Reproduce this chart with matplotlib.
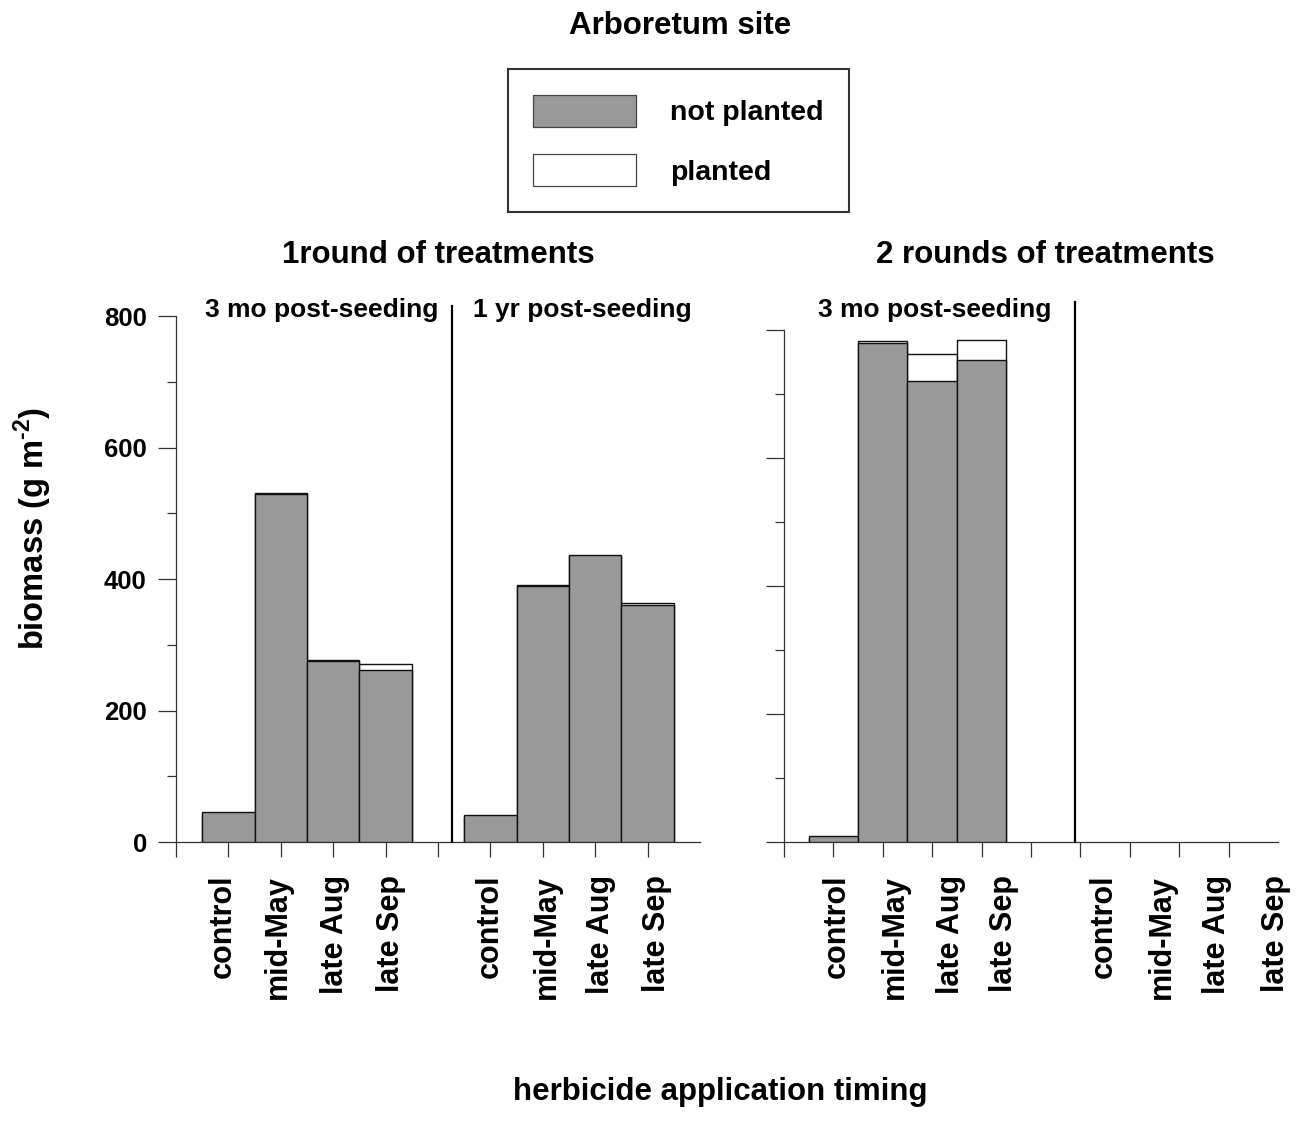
import numpy as np
import matplotlib
matplotlib.use("Agg")
import matplotlib.pyplot as plt
from matplotlib.patches import Patch
from matplotlib.ticker import MultipleLocator
from matplotlib.transforms import blended_transform_factory

plt.rcParams["font.family"] = ["Liberation Sans", "DejaVu Sans"]
plt.rcParams["font.weight"] = "bold"
plt.rcParams["mathtext.fontset"] = "custom"
plt.rcParams["mathtext.bf"] = "Liberation Sans:bold"
plt.rcParams["mathtext.rm"] = "Liberation Sans:bold"

categories = ["control", "mid-May", "late Aug", "late Sep"]

# 1 round of treatments
round1_3mo_not_planted = [45, 530, 276, 262]
round1_3mo_planted = [40, 531, 277, 270]
round1_1yr_not_planted = [41, 389, 437, 361]
round1_1yr_planted = [38, 391, 435, 363]

# 2 rounds of treatments (only 3 mo measured)
round2_3mo_not_planted = [9, 780, 720, 753]
round2_3mo_planted = [7, 783, 763, 784]

GREY = "#999999"
EDGE = "#111111"

fig = plt.figure(figsize=(12.99, 11.38), dpi=100)
ax1 = fig.add_axes([0.1355, 0.2601, 0.4034, 0.4622])
ax2 = fig.add_axes([0.6035, 0.2601, 0.3803, 0.4499])

pos_a = np.arange(1, 5)
pos_b = np.arange(6, 10)


def draw_bars(ax, pos, not_planted, planted):
    ax.bar(pos, planted, width=1.0, color="white", edgecolor=EDGE, linewidth=1.0, zorder=2)
    ax.bar(pos, not_planted, width=1.0, color=GREY, edgecolor=EDGE, linewidth=1.0, zorder=3)


draw_bars(ax1, pos_a, round1_3mo_not_planted, round1_3mo_planted)
draw_bars(ax1, pos_b, round1_1yr_not_planted, round1_1yr_planted)
draw_bars(ax2, pos_a, round2_3mo_not_planted, round2_3mo_planted)

for ax in (ax1, ax2):
    ax.set_xlim(0, 10)
    ax.set_ylim(0, 800)
    ax.spines["top"].set_visible(False)
    ax.spines["right"].set_visible(False)
    ax.spines["left"].set_linewidth(0.9)
    ax.spines["bottom"].set_linewidth(0.9)
    ax.spines["left"].set_color("#333333")
    ax.spines["bottom"].set_color("#333333")
    ax.set_xticks(np.arange(0, 10))
    ax.set_xticklabels([])
    ax.yaxis.set_major_locator(MultipleLocator(200))
    ax.yaxis.set_minor_locator(MultipleLocator(100))
    ax.tick_params(axis="x", direction="out", length=11, width=0.9, color="#333333")
    ax.tick_params(axis="y", which="major", direction="out", length=13, width=0.9,
                   color="#333333", labelsize=18.5, pad=8)
    ax.tick_params(axis="y", which="minor", direction="out", length=6.5, width=0.9,
                   color="#333333")

for lab in ax1.get_yticklabels():
    lab.set_fontweight("bold")
ax2.set_yticklabels([])

# dividers between measurement times
ax1.axvline(5.27, ymin=0, ymax=1.02, color="black", linewidth=1.6, clip_on=False, zorder=4)
ax2.axvline(5.9, ymin=0, ymax=1.055, color="black", linewidth=1.6, clip_on=False, zorder=4)

# subgroup headings
ax1.text(2.78, 809, "3 mo post-seeding", ha="center", va="center", fontsize=19, fontweight="bold")
ax1.text(7.75, 809, "1 yr post-seeding", ha="center", va="center", fontsize=19, fontweight="bold")
ax2.text(3.05, 831, "3 mo post-seeding", ha="center", va="center", fontsize=19, fontweight="bold")

# category labels under the axes
label_x_left = [0.9, 1.94, 3.03, 4.11, 5.98, 7.07, 8.11, 9.18]
label_x_right = [1.07, 2.24, 3.39, 4.46, 6.48, 7.66, 8.77, 9.96]
for ax, xs in ((ax1, label_x_left), (ax2, label_x_right)):
    tr = blended_transform_factory(ax.transData, fig.transFigure)
    for x, name in zip(xs, categories + categories):
        ax.text(x, 1 - 875 / 1138, name, transform=tr, rotation=90, ha="center", va="top",
                fontsize=22, fontweight="bold")

fig.text(680 / 1299, 1 - 26 / 1138, "Arboretum site", ha="center", va="center",
         fontsize=22.5, fontweight="bold")
fig.text(438 / 1299, 1 - 255 / 1138, "1round of treatments", ha="center", va="center",
         fontsize=22.5, fontweight="bold")
fig.text(1045 / 1299, 1 - 255 / 1138, "2 rounds of treatments", ha="center", va="center",
         fontsize=22.5, fontweight="bold")
fig.text(720 / 1299, 1 - 1092 / 1138, "herbicide application timing", ha="center", va="center",
         fontsize=22.5, fontweight="bold")
fig.text(33 / 1299, 1 - 528 / 1138, "biomass (g m$^{\\mathbf{\u2010}\\mathbf{2}}$)", ha="center",
         va="center", rotation=90, fontsize=23.5, fontweight="bold")

handles = [Patch(facecolor=GREY, edgecolor="#444444", linewidth=0.9, label="not planted"),
           Patch(facecolor="white", edgecolor="#444444", linewidth=0.9, label="planted")]
leg = fig.legend(handles=handles, loc="center", bbox_to_anchor=(678.5 / 1299, 1 - 140.5 / 1138),
                 prop={"size": 20.5, "weight": "bold"}, frameon=True, fancybox=False,
                 edgecolor="black", handlelength=3.6, handleheight=1.35, handletextpad=1.2,
                 labelspacing=0.95, borderpad=0.9)
leg.get_frame().set_linewidth(1.5)

fig.savefig("out.png", dpi=100)
